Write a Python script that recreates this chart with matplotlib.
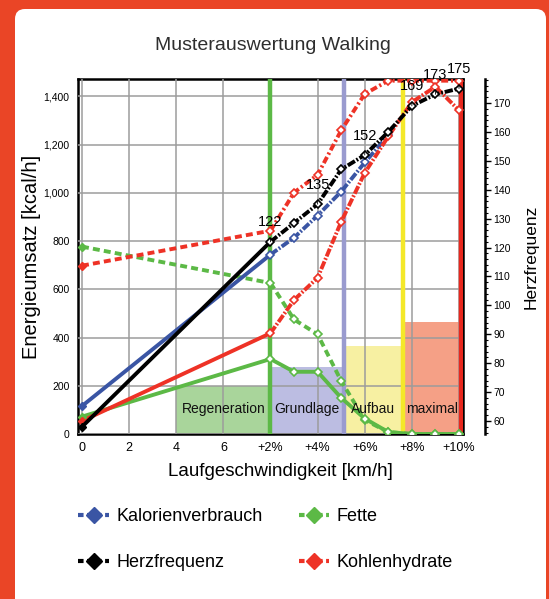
import numpy as np
import matplotlib.pyplot as plt
from matplotlib.patches import FancyBboxPatch, Rectangle
from matplotlib.lines import Line2D
from matplotlib.ticker import MultipleLocator, FuncFormatter

plt.rcParams['font.family'] = ['Liberation Sans', 'DejaVu Sans']
plt.rcParams['lines.scale_dashes'] = False

# x positions: 0..6 km/h on the flat, then 8 = +2% ... 16 = +10% incline
speed = [0, 8, 9, 10, 11, 12, 13, 14, 15, 16]
tick_pos = [0, 2, 4, 6, 8, 10, 12, 14, 16]
tick_labels = ['0', '2', '4', '6', '+2%', '+4%', '+6%', '+8%', '+10%']

kalorien = [116, 744, 814, 906, 1005, 1126, 1238, np.nan, np.nan, np.nan]
fette = [72, 311, 258, 258, 150, 64, 8, 0, 0, 0]
fette_b = [777, 626, 475, 413, 220, 58, 8, 0, 0, 0]
kohlen = [54, 418, 556, 648, 880, 1083, 1234, 1376, 1440, 1342]
kohlen_b = [698, 843, 1001, 1075, 1259, 1410, 1465, 1465, 1465, 1465]
herz = [58, 122, 128.5, 135, 147, 152, 160, 169, 173, 175]
herz_labels = {8: '122', 10: '135', 12: '152', 14: '169', 15: '173', 16: '175'}

zone_names = ['Regeneration', 'Grundlage', 'Aufbau', 'maximal']
zone_start = [4, 8, 11.12, 13.62]
zone_end = [8, 11.12, 13.62, 16.09]
zone_top = [200, 278, 365, 465]
zone_fill = ['#a9d59b', '#bcbde2', '#f7f0a2', '#f5a086']
zone_line = ['#5cb946', '#9a9bcf', '#f4e829', '#e8271d']

BLUE, GREEN, RED, BLACK = '#3a55a4', '#5cb946', '#ee3226', '#000000'

fig = plt.figure(figsize=(5.49, 5.99), dpi=100)
fig.patch.set_facecolor('#ea4526')

# white card behind everything
bg = fig.add_axes([0, 0, 1, 1])
bg.set_xlim(0, 549)
bg.set_ylim(599, 0)
bg.axis('off')
bg.add_patch(FancyBboxPatch((15, 9), 531, 640, boxstyle='round,pad=0,rounding_size=10',
                            facecolor='white', edgecolor='none'))

fig.text(273 / 549, 1 - 45 / 599, 'Musterauswertung Walking', ha='center', va='center',
         fontsize=14, color='#2e2e2e')

ax = fig.add_axes([78 / 549, 1 - 434 / 599, 385 / 549, 355 / 599])
ax.set_xlim(-0.17, 16.17)
ax.set_ylim(0, 1472)
ax.set_axisbelow(False)
ax.grid(color='#9c9c9c', lw=1.1)
ax.set_xticks(tick_pos)
ax.set_xticklabels(tick_labels, fontsize=9)
ax.set_yticks(range(0, 1401, 200))
ax.yaxis.set_major_formatter(FuncFormatter(lambda v, p: f'{int(v):,}'))
ax.tick_params(axis='y', length=0, pad=6, labelsize=7.5)
ax.tick_params(axis='x', length=0, pad=6)
for s in ax.spines.values():
    s.set_linewidth(1.8)

for name, x0, x1, top, fc, lc in zip(zone_names, zone_start, zone_end, zone_top, zone_fill, zone_line):
    ax.add_patch(Rectangle((x0, 0), x1 - x0, top, facecolor=fc, edgecolor='none', zorder=1))
    ax.text((x0 + x1) / 2, 104, name, ha='center', va='center', fontsize=10, color='#111111', zorder=5.5)
    ax.axvline(x1, color=lc, lw=3.2, zorder=3)

dashdot = (6, 1.3, 1.3, 1.3)
dashed = (5, 3)


def draw(a, y, color, first, second):
    a.plot(speed[:2], y[:2], color=color, lw=2.8, dashes=first, zorder=5,
           solid_capstyle='butt', dash_capstyle='butt')
    a.plot(speed[1:], y[1:], color=color, lw=2.8, dashes=second, zorder=5,
           solid_capstyle='butt', dash_capstyle='butt',
           marker='D', ms=4.5, mfc='white', mec=color, mew=1.2)
    a.plot(speed[:1], y[:1], ls='none', marker='D', ms=4, color=color, zorder=6)


solid = (None, None)
draw(ax, fette_b, GREEN, dashed, dashed)
draw(ax, kohlen_b, RED, dashed, (5, 2, 1.5, 2))
draw(ax, fette, GREEN, solid, solid)
draw(ax, kalorien, BLUE, solid, dashdot)
draw(ax, kohlen, RED, solid, dashdot)

ax2 = ax.twinx()
ax2.set_ylim(55.5, 178.3)
ax2.spines['right'].set_position(('axes', 1.057))
for k in ['left', 'top', 'bottom']:
    ax2.spines[k].set_visible(False)
ax2.spines['right'].set_linewidth(1.8)
ax2.yaxis.set_major_locator(MultipleLocator(10))
ax2.yaxis.set_minor_locator(MultipleLocator(2))
ax2.set_yticks(range(60, 171, 10))
ax2.tick_params(axis='y', which='major', length=4, width=1, labelsize=7.5, pad=2)
ax2.tick_params(axis='y', which='minor', length=2, width=0.8)
draw(ax2, herz, BLACK, solid, dashdot)
for xv, lab in herz_labels.items():
    yv = herz[speed.index(xv)]
    ax2.annotate(lab, (xv, yv), xytext=(0, 14), textcoords='offset points',
                 ha='center', va='center', fontsize=10.5, color='black', zorder=7,
                 arrowprops=dict(arrowstyle='-', lw=0.6, color='black', shrinkA=5, shrinkB=0))

ax.set_ylabel('Energieumsatz [kcal/h]', fontsize=14.5)
ax.yaxis.set_label_coords(-0.095, 0.5)
ax.set_xlabel('Laufgeschwindigkeit [km/h]', fontsize=13.5)
ax.xaxis.set_label_coords(0.525, -0.082)
ax2.set_ylabel('Herzfrequenz', fontsize=12.5)
ax2.yaxis.set_label_coords(1.157, 0.5)

handles = [Line2D([0], [0], color=c, lw=3, dashes=(4, 2.5), marker='D', ms=8, mfc=c, mec=c)
           for c in [BLUE, BLACK, GREEN, RED]]
labels = ['Kalorienverbrauch', 'Herzfrequenz', 'Fette', 'Kohlenhydrate']
fig.legend(handles, labels, ncol=2, loc='upper left', bbox_to_anchor=(62 / 549, 1 - 492 / 599),
           frameon=False, fontsize=13, handlelength=1.7, handletextpad=0.4,
           columnspacing=2.0, labelspacing=1.6, numpoints=1)

fig.savefig('out.png', dpi=100, facecolor=fig.get_facecolor())
